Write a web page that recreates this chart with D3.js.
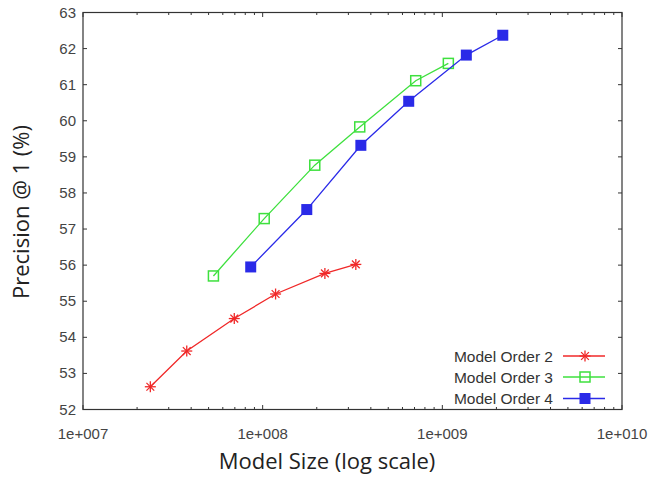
<!DOCTYPE html>
<html>
<head>
<meta charset="utf-8">
<script src="https://d3js.org/d3.v7.min.js"></script>
<style>
  body { margin: 0; background: #fff; }
  .tick-label { font-family: "Liberation Sans", Arial, sans-serif; font-size: 15px; fill: #444; }
  .axis-title { font-family: "Open Sans", "DejaVu Sans", sans-serif; font-size: 22px; fill: #222; }
  .legend-label { font-family: "Liberation Sans", Arial, sans-serif; font-size: 15.5px; fill: #333; }
</style>
</head>
<body>
<svg width="652" height="477"></svg>
<script>
// data
var seriesNames = ["Model Order 2", "Model Order 3", "Model Order 4"];
var seriesColors = ["#f02828", "#3ee03e", "#2a2ae8"];
var seriesMarkers = ["star", "openSquare", "filledSquare"];

var order2Size = [2.37e7, 3.78e7, 6.95e7, 1.18e8, 2.22e8, 3.30e8];
var order2Prec = [52.63, 53.62, 54.52, 55.20, 55.77, 56.02];

var order3Size = [5.32e7, 1.02e8, 1.95e8, 3.47e8, 7.11e8, 1.08e9];
var order3Prec = [55.70, 57.29, 58.77, 59.83, 61.11, 61.59];

var order4Size = [8.58e7, 1.76e8, 3.52e8, 6.50e8, 1.36e9, 2.17e9];
var order4Prec = [55.95, 57.54, 59.32, 60.54, 61.82, 62.37];

var xTickValues = [1e7, 1e8, 1e9, 1e10];
var xTickLabels = ["1e+007", "1e+008", "1e+009", "1e+010"];
var yTickValues = d3.range(52, 64);

var sizes = [order2Size, order3Size, order4Size];
var precs = [order2Prec, order3Prec, order4Prec];

var svg = d3.select("svg");
var plotLeft = 83, plotRight = 622, plotTop = 12.5, plotBottom = 409.5;

var x = d3.scaleLog().domain([1e7, 1e10]).range([plotLeft, plotRight]);
var y = d3.scaleLinear().domain([52, 63]).range([plotBottom, plotTop]);

// frame
svg.append("rect")
  .attr("x", plotLeft).attr("y", plotTop)
  .attr("width", plotRight - plotLeft).attr("height", plotBottom - plotTop)
  .attr("fill", "none").attr("stroke", "#333").attr("stroke-width", 1.2);

// x ticks (major + minor, mirrored top/bottom, inward)
var minor = [];
for (var d = 7; d < 10; d++) {
  for (var m = 2; m <= 9; m++) minor.push(m * Math.pow(10, d));
}
var tickG = svg.append("g").attr("stroke", "#333").attr("stroke-width", 1);
minor.forEach(function(v) {
  tickG.append("line").attr("x1", x(v)).attr("x2", x(v)).attr("y1", plotBottom).attr("y2", plotBottom - 2.5);
  tickG.append("line").attr("x1", x(v)).attr("x2", x(v)).attr("y1", plotTop).attr("y2", plotTop + 2.5);
});
xTickValues.forEach(function(v) {
  tickG.append("line").attr("x1", x(v)).attr("x2", x(v)).attr("y1", plotBottom).attr("y2", plotBottom - 4.5);
  tickG.append("line").attr("x1", x(v)).attr("x2", x(v)).attr("y1", plotTop).attr("y2", plotTop + 4.5);
});
yTickValues.forEach(function(v) {
  tickG.append("line").attr("x1", plotLeft).attr("x2", plotLeft + 4).attr("y1", y(v)).attr("y2", y(v));
  tickG.append("line").attr("x1", plotRight).attr("x2", plotRight - 4).attr("y1", y(v)).attr("y2", y(v));
});

// tick labels
svg.selectAll(".xl").data(xTickValues).enter().append("text")
  .attr("class", "tick-label")
  .attr("x", function(d) { return x(d); })
  .attr("y", 439)
  .attr("text-anchor", "middle")
  .text(function(d, i) { return xTickLabels[i]; });

svg.selectAll(".yl").data(yTickValues).enter().append("text")
  .attr("class", "tick-label")
  .attr("x", 76)
  .attr("y", function(d) { return y(d) + 5; })
  .attr("text-anchor", "end")
  .text(function(d) { return d; });

// axis titles
svg.append("text").attr("class", "axis-title")
  .attr("x", 327).attr("y", 469)
  .attr("text-anchor", "middle")
  .text("Model Size (log scale)");

svg.append("text").attr("class", "axis-title")
  .attr("transform", "translate(29,212) rotate(-90)")
  .attr("text-anchor", "middle")
  .text("Precision @ 1 (%)");

function drawMarker(g, type, color, cx, cy) {
  if (type === "star") {
    var r = 5.5;
    var s = g.append("g").attr("stroke", color).attr("stroke-width", 1.3);
    [0, 45, 90, 135].forEach(function(a) {
      var rad = a * Math.PI / 180;
      s.append("line")
        .attr("x1", cx - r * Math.cos(rad)).attr("y1", cy - r * Math.sin(rad))
        .attr("x2", cx + r * Math.cos(rad)).attr("y2", cy + r * Math.sin(rad));
    });
  } else if (type === "openSquare") {
    g.append("rect").attr("x", cx - 5).attr("y", cy - 5)
      .attr("width", 10).attr("height", 10)
      .attr("fill", "none").attr("stroke", color).attr("stroke-width", 1.5);
  } else {
    g.append("rect").attr("x", cx - 5.5).attr("y", cy - 5.5)
      .attr("width", 11).attr("height", 11)
      .attr("fill", color);
  }
}

var line = d3.line()
  .x(function(d) { return x(d[0]); })
  .y(function(d) { return y(d[1]); });

seriesNames.forEach(function(name, i) {
  var pts = sizes[i].map(function(s, j) { return [s, precs[i][j]]; });
  var g = svg.append("g");
  g.append("path").datum(pts)
    .attr("d", line)
    .attr("fill", "none")
    .attr("stroke", seriesColors[i])
    .attr("stroke-width", 1.3);
  pts.forEach(function(p) {
    drawMarker(g, seriesMarkers[i], seriesColors[i], x(p[0]), y(p[1]));
  });
});

// legend
var legendY = [356, 377, 398.5];
seriesNames.forEach(function(name, i) {
  var g = svg.append("g");
  g.append("text").attr("class", "legend-label")
    .attr("x", 553).attr("y", legendY[i] + 5.5)
    .attr("text-anchor", "end")
    .text(name);
  g.append("line")
    .attr("x1", 563).attr("x2", 605)
    .attr("y1", legendY[i]).attr("y2", legendY[i])
    .attr("stroke", seriesColors[i]).attr("stroke-width", 1.3);
  drawMarker(g, seriesMarkers[i], seriesColors[i], 585, legendY[i]);
});
</script>
</body>
</html>
